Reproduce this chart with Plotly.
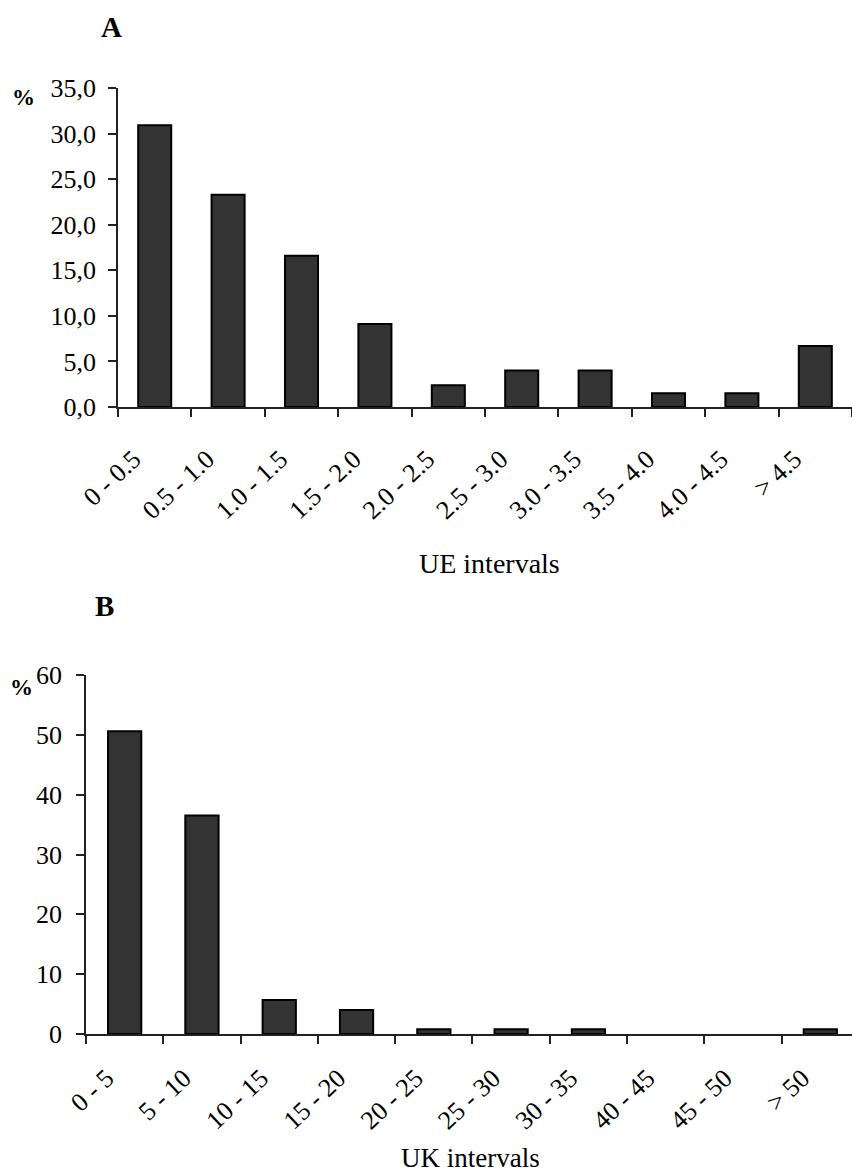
import plotly.graph_objects as go

ue_categories = ["0 - 0.5", "0.5 - 1.0", "1.0 - 1.5", "1.5 - 2.0", "2.0 - 2.5",
                 "2.5 - 3.0", "3.0 - 3.5", "3.5 - 4.0", "4.0 - 4.5", "> 4.5"]
ue_values = [30.9, 23.3, 16.6, 9.1, 2.4, 4.0, 4.0, 1.5, 1.5, 6.7]

uk_categories = ["0 - 5", "5 - 10", "10 - 15", "15 - 20", "20 - 25",
                 "25 - 30", "30 - 35", "40 - 45", "45 - 50", "> 50"]
uk_values = [50.6, 36.5, 5.7, 4.0, 0.8, 0.8, 0.8, 0.0, 0.0, 0.8]

W, H = 852, 1173
FONT = "Liberation Serif"
BAR = "#333333"

fig = go.Figure()
fig.add_trace(go.Bar(x=ue_categories, y=ue_values, xaxis="x", yaxis="y",
                     marker=dict(color=BAR, line=dict(color="black",
                                 width=[2 if v > 0 else 0 for v in ue_values])),
                     width=0.45, showlegend=False, hoverinfo="x+y"))
fig.add_trace(go.Bar(x=uk_categories, y=uk_values, xaxis="x2", yaxis="y2",
                     marker=dict(color=BAR, line=dict(color="black",
                                 width=[2 if v > 0 else 0 for v in uk_values])),
                     width=0.43, showlegend=False, hoverinfo="x+y"))

def px_x(p):
    return p / W

def px_y(p):
    return 1 - p / H

axis_common = dict(showgrid=False, zeroline=False, showline=True, linecolor="#222222",
                   linewidth=1.5, ticks="outside", ticklen=8, tickcolor="#222222",
                   tickwidth=1.5, automargin=False,
                   tickfont=dict(family=FONT, size=26, color="black"))

fig.update_layout(
    template="none",
    width=W, height=H, margin=dict(l=0, r=0, t=0, b=0, pad=0),
    paper_bgcolor="white", plot_bgcolor="white",
    separators=", ",
    bargap=0.55,
    xaxis=dict(domain=[px_x(118), 1.0], anchor="y", type="category",
               tickson="boundaries", tickangle=-43, range=[-0.5, 9.5],
               ticklabelshift=-21, ticklabelstandoff=25, **axis_common),
    yaxis=dict(domain=[px_y(407), px_y(88)], anchor="x", range=[0, 35], dtick=5,
               tickformat=".1f", ticklabelstandoff=7, **axis_common),
    xaxis2=dict(domain=[px_x(86), 1.0], anchor="y2", type="category",
                tickson="boundaries", tickangle=-43, range=[-0.5, 9.41],
                ticklabelshift=-18, ticklabelstandoff=17, **axis_common),
    yaxis2=dict(domain=[px_y(1034), px_y(675)], anchor="x2", range=[0, 60], dtick=10,
                ticklabelstandoff=9, **axis_common),
)

def ann(text, x, y, size, bold=False):
    fig.add_annotation(text=("<b>%s</b>" % text) if bold else text,
                       x=px_x(x), y=px_y(y), xref="paper", yref="paper",
                       showarrow=False, xanchor="center", yanchor="middle",
                       font=dict(family=FONT, size=size, color="black"))

ann("A", 111, 27, 29, bold=True)
ann("B", 104, 606, 29, bold=True)
ann("%", 23, 97, 23, bold=True)
ann("%", 21, 687, 23, bold=True)
ann("UE intervals", 489, 563, 28)
ann("UK intervals", 470, 1158, 27)

fig.write_html("out.html",
               config={"displayModeBar": False},
               post_script="document.body.style.margin='0px';"
                           "document.body.style.overflow='hidden';")
